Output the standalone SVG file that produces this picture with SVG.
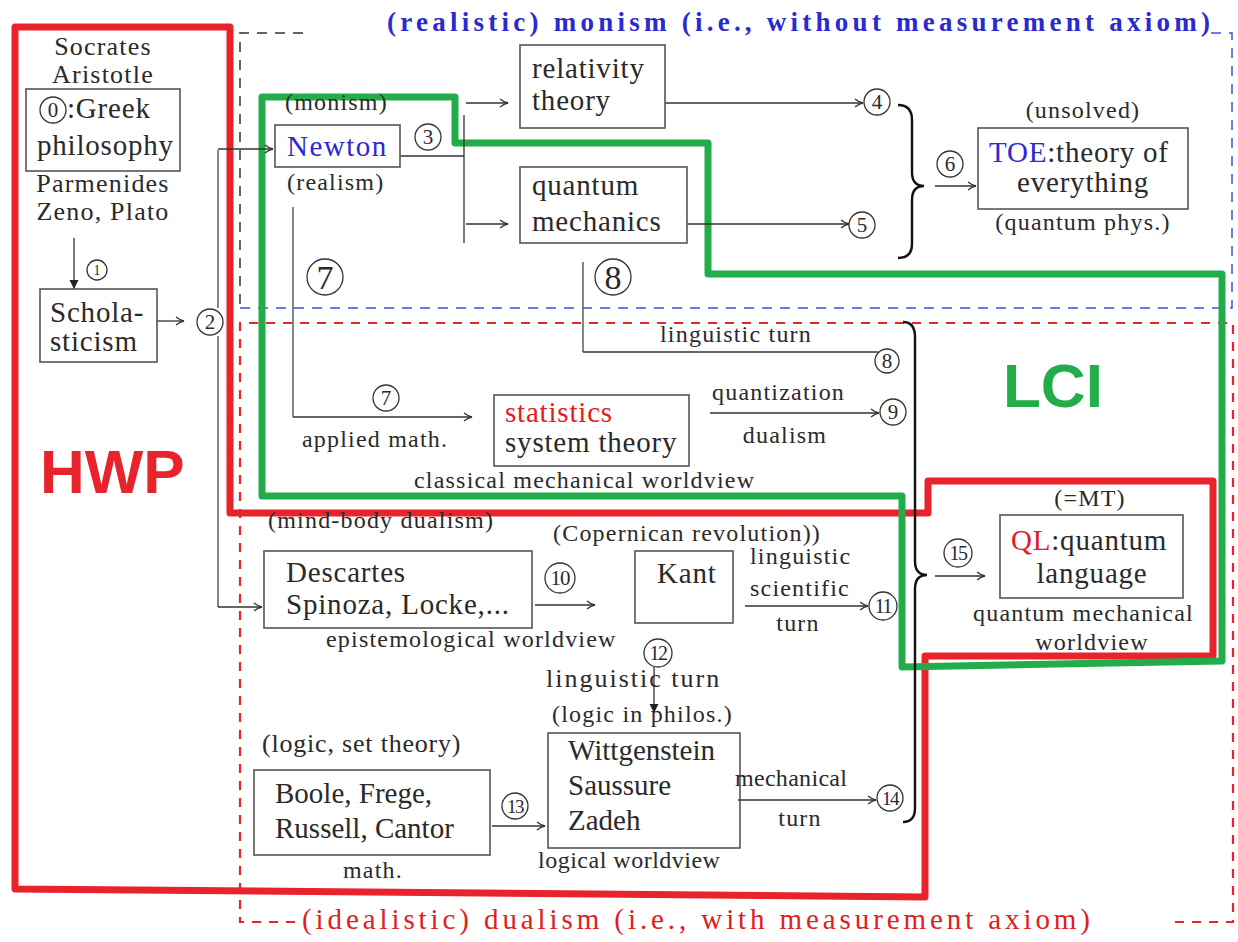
<svg xmlns="http://www.w3.org/2000/svg" width="1238" height="942" viewBox="0 0 1238 942" font-family="Liberation Serif, DejaVu Serif, serif">
<defs>
<style>
text{fill:#2a2a2a}
.m{font-size:29px;letter-spacing:0.8px}
.o{font-size:26px;letter-spacing:1.2px}
.s{font-size:24px;letter-spacing:1.2px}
.c{text-anchor:middle}
.box{fill:none;stroke:#555;stroke-width:1.6}
.ln{fill:none;stroke:#333;stroke-width:1.3}
.ar{fill:none;stroke:#333;stroke-width:1.3;marker-end:url(#ah)}
.af{fill:none;stroke:#333;stroke-width:1.3;marker-end:url(#af)}
.gl{fill:none;stroke:#666;stroke-width:1.6}
.cn circle{fill:#fff;stroke:#333;stroke-width:1.3}
.cn text{text-anchor:middle;font-size:21px}
.big text{font-size:34px}
.brace{fill:none;stroke:#111;stroke-width:2.4}
.sans{font-weight:bold;font-size:62px}
</style>
<marker id="ah" viewBox="0 0 10 10" refX="9" refY="5" markerWidth="10" markerHeight="10" markerUnits="userSpaceOnUse" orient="auto">
<path d="M1,1 Q5,4.2 9,5 Q5,5.8 1,9" fill="none" stroke="#333" stroke-width="1.3"/>
</marker>
<marker id="af" viewBox="0 0 10 12" refX="10" refY="6" markerWidth="9" markerHeight="11" markerUnits="userSpaceOnUse" orient="auto">
<path d="M0,1 L10,6 L0,11 z" fill="#222"/>
</marker>
</defs>
<rect width="1238" height="942" fill="#fff"/>

<g id="regions">
<path d="M303,33 H240 V308" fill="none" stroke="#333" stroke-width="1.5" stroke-dasharray="10 8"/>
<path d="M240,308 H1232 V33 H1208" fill="none" stroke="#3355dd" stroke-width="1.5" stroke-dasharray="10 8"/>
<path d="M295,922 H240 V323 H1233 V922 H1172" fill="none" stroke="#e8232b" stroke-width="2.2" stroke-dasharray="9 8"/>
<text x="387" y="31" font-size="27" font-weight="bold" style="fill:#2a2ad0" textLength="823" lengthAdjust="spacing">(realistic) monism (i.e., without measurement axiom)</text>
<text x="302" y="929" font-size="29" style="fill:#e02020" textLength="788" lengthAdjust="spacing">(idealistic) dualism (i.e., with measurement axiom)</text>
</g>

<g id="HWP">
<path d="M15,27 H230 V513 H928 V481 H1213 V656 H925 V897 L15,889 Z" fill="none" stroke="#e8232b" stroke-width="7" stroke-linejoin="round"/>
<text class="sans" x="40" y="493" font-family="Liberation Sans, DejaVu Sans, sans-serif" style="fill:#e8232b">HWP</text>
</g>

<g id="LCI">
<path d="M262,97 H455 V143 H708 V274 H1222 V661 L902,667 V496 H262 Z" fill="none" stroke="#22ad4a" stroke-width="7" stroke-linejoin="round"/>
<text class="sans" x="1003" y="407" font-family="Liberation Sans, DejaVu Sans, sans-serif" style="fill:#22ad4a">LCI</text>
</g>

<g id="connectors">
<path class="af" d="M74,238 V289"/>
<path class="ar" d="M157,321 H184"/>
<path class="gl" d="M218,150 V308 M218,336 V607"/>
<path class="ar" d="M218,149 H273"/>
<path class="ar" d="M218,607 H262"/>
<path class="ln" d="M400,156 H464 M464,115 V243"/>
<path class="ar" d="M466,103 H508"/>
<path class="ar" d="M466,224 H508"/>
<path class="ar" d="M665,103 H863"/>
<path class="ar" d="M687,224 H849"/>
<path class="brace" d="M898,105 Q912,105 912,120 L912,172 Q912,186 924,186 Q912,186 912,200 L912,244 Q912,258 898,258"/>
<path class="ar" d="M935,186 H976"/>
<path class="gl" d="M293,207 V417"/>
<path class="ar" d="M293,417 H472"/>
<path class="gl" d="M583,262 V352"/>
<path class="ln" d="M583,352 H878"/>
<path class="ar" d="M710,413 H879"/>
<path class="brace" d="M903,322 Q915,322 915,337 L915,561 Q915,575 927,575 Q915,575 915,589 L915,808 Q915,822 903,822"/>
<path class="ar" d="M935,576 H985"/>
<path class="ar" d="M535,605 H595"/>
<path class="ar" d="M745,606 H868"/>
<path class="af" d="M654,667 V713"/>
<path class="ar" d="M492,826 H545"/>
<path class="ar" d="M738,800 H876"/>
</g>

<g id="greek">
<text class="o c" x="103" y="55">Socrates</text>
<text class="o c" x="103" y="83">Aristotle</text>
<rect class="box" x="26" y="89" width="154" height="82"/>
<g class="cn"><circle cx="53" cy="110" r="13"/><text x="53" y="117">0</text></g>
<text class="m" x="67" y="118">:Greek</text>
<text class="m" x="37" y="155">philosophy</text>
<text class="o c" x="103" y="192">Parmenides</text>
<text class="o c" x="103" y="220">Zeno, Plato</text>
</g>
<g id="n1" class="cn"><circle cx="97" cy="270" r="10"/><text x="97" y="275" style="font-size:14px">1</text></g>
<g id="scholasticism">
<rect class="box" x="40" y="289" width="117" height="73"/>
<text class="m" x="50" y="322">Schola-</text>
<text class="m" x="50" y="351">sticism</text>
</g>
<g id="n2" class="cn"><circle cx="210" cy="322" r="13"/><text x="210" y="329">2</text></g>

<g id="newton">
<text class="s" x="285" y="110">(monism)</text>
<rect class="box" x="275" y="125" width="125" height="42"/>
<text class="m" x="287" y="156" style="fill:#2a2ad0;letter-spacing:1.5px">Newton</text>
<text class="s" x="287" y="190">(realism)</text>
</g>
<g id="n3" class="cn"><circle cx="428" cy="137" r="13"/><text x="428" y="144">3</text></g>
<g id="relativity">
<rect class="box" x="520" y="45" width="145" height="83"/>
<text class="m" x="532" y="78">relativity</text>
<text class="m" x="532" y="110">theory</text>
</g>
<g id="qm">
<rect class="box" x="520" y="167" width="167" height="76"/>
<text class="m" x="532" y="195">quantum</text>
<text class="m" x="532" y="231">mechanics</text>
</g>
<g id="n4" class="cn"><circle cx="877" cy="102" r="13"/><text x="877" y="109">4</text></g>
<g id="n5" class="cn"><circle cx="862" cy="225" r="13"/><text x="862" y="232">5</text></g>
<g id="n6" class="cn"><circle cx="950" cy="164" r="13"/><text x="950" y="171">6</text></g>
<g id="toe">
<text class="s c" x="1083" y="118">(unsolved)</text>
<rect class="box" x="978" y="128" width="210" height="81"/>
<text class="m" x="989" y="162"><tspan style="fill:#2a2ad0">TOE</tspan>:theory of</text>
<text class="m c" x="1083" y="192">everything</text>
<text class="s c" x="1083" y="230">(quantum phys.)</text>
</g>

<g id="n7big" class="cn big"><circle cx="325" cy="277" r="18"/><text x="325" y="289">7</text></g>
<g id="n8big" class="cn big"><circle cx="613" cy="277" r="18"/><text x="613" y="289">8</text></g>
<text class="s" x="660" y="342">linguistic turn</text>
<g id="n8" class="cn"><circle cx="887" cy="361" r="12"/><text x="887" y="368">8</text></g>
<g id="n7" class="cn"><circle cx="386" cy="398" r="13"/><text x="386" y="405">7</text></g>
<text class="s" x="302" y="447">applied math.</text>
<g id="statistics">
<rect class="box" x="494" y="395" width="195" height="71"/>
<text class="m" x="505" y="422" style="fill:#e02020">statistics</text>
<text class="m" x="505" y="452">system theory</text>
<text class="s" x="414" y="488">classical mechanical worldview</text>
</g>
<text class="s" x="712" y="400">quantization</text>
<text class="s c" x="785" y="443">dualism</text>
<g id="n9" class="cn"><circle cx="893" cy="412" r="13"/><text x="893" y="419">9</text></g>

<g id="descartes">
<text class="s" x="268" y="528">(mind-body dualism)</text>
<rect class="box" x="264" y="551" width="268" height="77"/>
<text class="m" x="286" y="582">Descartes</text>
<text class="m" x="286" y="614">Spinoza, Locke,...</text>
<text class="s" x="326" y="647">epistemological worldview</text>
</g>
<g id="n10" class="cn"><circle cx="560" cy="578" r="15"/><text x="560" y="585" style="letter-spacing:-1px">10</text></g>
<g id="kant">
<text class="s" x="553" y="541">(Copernican revolution))</text>
<rect class="box" x="635" y="551" width="98" height="72"/>
<text class="m" x="657" y="583">Kant</text>
</g>
<text class="s" x="750" y="564">linguistic</text>
<text class="s" x="750" y="596">scientific</text>
<text class="s c" x="798" y="631">turn</text>
<g id="n11" class="cn"><circle cx="883" cy="606" r="14"/><text x="883" y="613" style="font-size:20px;letter-spacing:-1.5px">11</text></g>
<g id="n12" class="cn"><circle cx="658" cy="653" r="14"/><text x="658" y="660" style="font-size:20px;letter-spacing:-1.5px">12</text></g>
<text class="s" x="546" y="687" style="font-size:26px;letter-spacing:2px">linguistic turn</text>
<text class="s" x="552" y="722">(logic in philos.)</text>

<g id="ql">
<text class="s c" x="1090" y="506">(=MT)</text>
<rect class="box" x="1000" y="515" width="183" height="83"/>
<text class="m" x="1011" y="550"><tspan style="fill:#e02020">QL</tspan>:quantum</text>
<text class="m c" x="1092" y="583">language</text>
<text class="s" x="973" y="621">quantum mechanical</text>
<text class="s c" x="1092" y="650">worldview</text>
</g>
<g id="n15" class="cn"><circle cx="958" cy="553" r="14"/><text x="958" y="560" style="font-size:20px;letter-spacing:-1.5px">15</text></g>

<g id="boole">
<text class="s" x="262" y="752" style="font-size:26px;letter-spacing:0.8px">(logic, set theory)</text>
<rect class="box" x="254" y="770" width="236" height="85"/>
<text class="m" x="275" y="803" style="letter-spacing:0">Boole, Frege,</text>
<text class="m" x="275" y="838" style="letter-spacing:0">Russell, Cantor</text>
<text class="s c" x="373" y="878">math.</text>
</g>
<g id="n13" class="cn"><circle cx="515" cy="806" r="13"/><text x="515" y="813" style="font-size:19px;letter-spacing:-1.5px">13</text></g>
<g id="wittgenstein">
<rect class="box" x="548" y="733" width="192" height="115"/>
<text class="m" x="568" y="760" style="letter-spacing:0">Wittgenstein</text>
<text class="m" x="568" y="795" style="letter-spacing:0">Saussure</text>
<text class="m" x="568" y="830" style="letter-spacing:0">Zadeh</text>
<text class="s" x="538" y="868" style="letter-spacing:0.5px">logical worldview</text>
</g>
<text class="s" x="735" y="786" style="letter-spacing:0.3px">mechanical</text>
<text class="s c" x="800" y="826">turn</text>
<g id="n14" class="cn"><circle cx="890" cy="798" r="13"/><text x="890" y="805" style="font-size:19px;letter-spacing:-1.5px">14</text></g>
</svg>
